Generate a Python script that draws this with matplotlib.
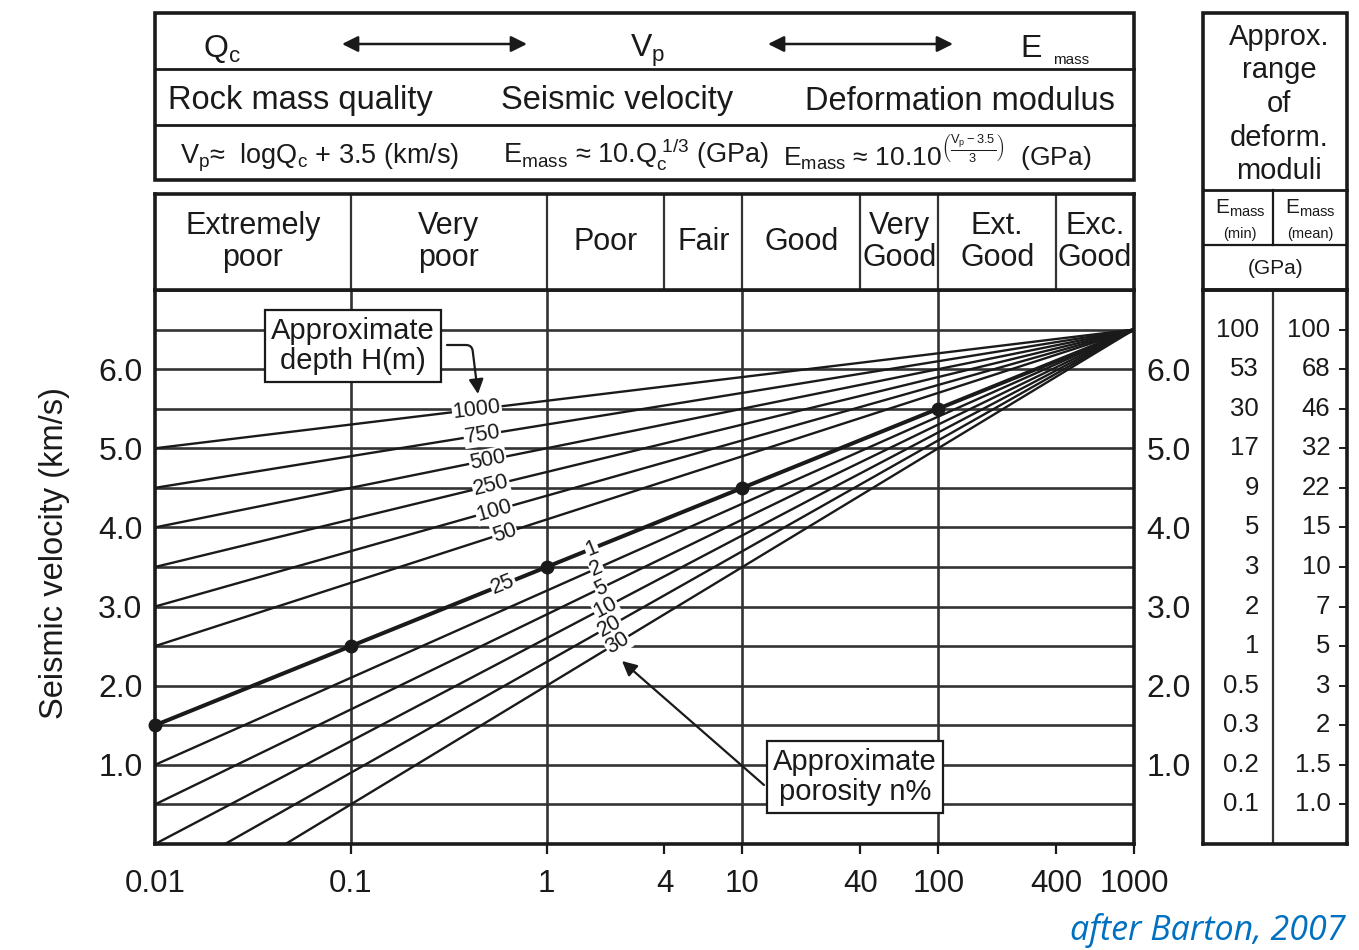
import numpy as np
import matplotlib
matplotlib.use("Agg")
import matplotlib.pyplot as plt
from matplotlib.patches import Rectangle
from matplotlib.lines import Line2D

plt.rcParams["font.family"] = ["Liberation Sans", "DejaVu Sans"]
plt.rcParams["mathtext.fontset"] = "custom"
plt.rcParams["mathtext.rm"] = "Liberation Sans"
plt.rcParams["mathtext.it"] = "Liberation Sans:italic"
plt.rcParams["mathtext.bf"] = "Liberation Sans:bold"

# ---------------- data ----------------
# rock mass quality classes, bounded by Q values
q_bounds = [0.01, 0.1, 1, 4, 10, 40, 100, 400, 1000]
q_classes = ["Extremely\npoor", "Very\npoor", "Poor", "Fair", "Good",
             "Very\nGood", "Ext.\nGood", "Exc.\nGood"]

q_ticks = [0.01, 0.1, 1, 4, 10, 40, 100, 400, 1000]
q_tick_labels = ["0.01", "0.1", "1", "4", "10", "40", "100", "400", "1000"]

vp_ticks = [1.0, 2.0, 3.0, 4.0, 5.0, 6.0]
vp_tick_labels = ["1.0", "2.0", "3.0", "4.0", "5.0", "6.0"]

# every line runs from Q = 0.01 to the common focus (Q = 1000, Vp = 6.5)
q_start = 0.01
q_focus = 1000
vp_focus = 6.5

# depth lines H (m): Vp at Q = 0.01
depth_names = ["1000", "750", "500", "250", "100", "50", "25"]
depth_vp_start = [5.0, 4.5, 4.0, 3.5, 3.0, 2.5, 1.5]

# porosity lines n (%): Vp at Q = 0.01
porosity_names = ["1", "2", "5", "10", "20", "30"]
porosity_vp_start = [1.5, 1.0, 0.5, 0.0, -0.5, -1.0]

# Vp = log Qc + 3.5 reference points
q_points = [0.01, 0.1, 1, 10, 100]
vp_points = [1.5, 2.5, 3.5, 4.5, 5.5]

# deformation modulus table (GPa), one row per Vp level
vp_rows = [6.5, 6.0, 5.5, 5.0, 4.5, 4.0, 3.5, 3.0, 2.5, 2.0, 1.5, 1.0, 0.5]
emass_min = ["100", "53", "30", "17", "9", "5", "3", "2", "1", "0.5", "0.3", "0.2", "0.1"]
emass_mean = ["100", "68", "46", "32", "22", "15", "10", "7", "5", "3", "2", "1.5", "1.0"]

# where the line labels sit along Q
depth_label_q = [0.44, 0.47, 0.50, 0.52, 0.54, 0.61, 0.60]
porosity_label_q = [1.7, 1.8, 1.9, 2.0, 2.1, 2.3]

# ---------------- figure ----------------
W, H = 1359, 950
fig = plt.figure(figsize=(W / 100, H / 100), dpi=100)
INK = "#1a1a1a"
GRID = "#333333"


def axes_px(left, top, right, bottom, **kw):
    return fig.add_axes([left / W, 1 - bottom / H, (right - left) / W, (bottom - top) / H], **kw)


# main nomogram
ax = axes_px(155, 290, 1134, 844)
ax.set_xscale("log")
ax.set_xlim(q_start, q_focus)
ax.set_ylim(0, 7)
for s in ax.spines.values():
    s.set_linewidth(2.6)
    s.set_color(INK)

for v in np.arange(0.5, 7.0, 0.5):
    ax.axhline(v, color=GRID, lw=1.9, zorder=1)
for q in [0.1, 1, 10, 100]:
    ax.axvline(q, color=GRID, lw=1.9, zorder=1)

ax.set_xticks(q_ticks)
ax.set_xticklabels(q_tick_labels)
ax.xaxis.set_minor_locator(matplotlib.ticker.NullLocator())
ax.tick_params(axis="x", direction="out", length=7, width=1.6, color=INK,
               labelsize=22.5, pad=11, labelcolor=INK)
ax.xaxis.get_major_ticks()[0].tick1line.set_visible(False)
ax.set_yticks(vp_ticks)
ax.set_yticklabels(vp_tick_labels)
ax.tick_params(axis="y", length=0, labelsize=23, pad=9, labelcolor=INK,
               labelright=True, right=False)


def line_angle(v0):
    p1 = ax.transData.transform((q_start, v0))
    p2 = ax.transData.transform((q_focus, vp_focus))
    return np.degrees(np.arctan2(p2[1] - p1[1], p2[0] - p1[0]))


def vp_at(q, v0):
    frac = (np.log10(q) - np.log10(q_start)) / (np.log10(q_focus) - np.log10(q_start))
    return v0 + (vp_focus - v0) * frac


label_box = dict(facecolor="white", edgecolor="none", pad=0.6)

for name, v0, ql in zip(depth_names, depth_vp_start, depth_label_q):
    lw = 2.9 if v0 == vp_points[0] else 1.7
    ax.plot([q_start, q_focus], [v0, vp_focus], color=INK, lw=lw, zorder=3,
            solid_capstyle="butt")
    ax.text(ql, vp_at(ql, v0), name, rotation=line_angle(v0), rotation_mode="anchor",
            ha="center", va="center", fontsize=15.5, color=INK, bbox=label_box, zorder=5)

for name, v0, ql in zip(porosity_names, porosity_vp_start, porosity_label_q):
    if v0 != vp_points[0]:
        ax.plot([q_start, q_focus], [v0, vp_focus], color=INK, lw=1.7, zorder=3,
                solid_capstyle="butt")
    ax.text(ql, vp_at(ql, v0), name, rotation=line_angle(v0), rotation_mode="anchor",
            ha="center", va="center", fontsize=15.5, color=INK, bbox=label_box, zorder=5)

ax.plot(q_points, vp_points, "o", color=INK, ms=9, zorder=6, clip_on=False)

# quality class header
axq = axes_px(155, 194, 1134, 290)
axq.set_xscale("log")
axq.set_xlim(q_start, q_focus)
axq.set_ylim(0, 1)
axq.set_xticks([])
axq.set_yticks([])
axq.xaxis.set_minor_locator(matplotlib.ticker.NullLocator())
for s in axq.spines.values():
    s.set_linewidth(2.6)
    s.set_color(INK)
for b in q_bounds[1:-1]:
    axq.axvline(b, color=GRID, lw=1.6)
for lo, hi, name in zip(q_bounds[:-1], q_bounds[1:], q_classes):
    axq.text(np.sqrt(lo * hi), 0.5, name, ha="center", va="center", fontsize=22,
             color=INK, linespacing=1.05)

# deformation modulus table
axt = axes_px(1203, 290, 1347, 844)
axt.set_xlim(0, 1)
axt.set_ylim(0, 7)
axt.set_xticks([])
axt.set_yticks(vp_rows)
axt.set_yticklabels([])
axt.tick_params(axis="y", left=False, right=True, direction="in", length=6,
                width=1.4, color=INK)
for s in axt.spines.values():
    s.set_linewidth(2.6)
    s.set_color(INK)
axt.axvline(70 / 144, color=GRID, lw=1.6)
for v, a, b in zip(vp_rows, emass_min, emass_mean):
    axt.text(0.39, v, a, ha="right", va="center", fontsize=18.5, color=INK)
    axt.text(0.885, v, b, ha="right", va="center", fontsize=18.5, color=INK)

# overlay in pixel coordinates for the header blocks and annotations
ov = fig.add_axes([0, 0, 1, 1], zorder=10)
ov.set_xlim(0, W)
ov.set_ylim(H, 0)
ov.axis("off")
ov.patch.set_visible(False)

# relation header
ov.add_patch(Rectangle((155, 13), 979, 167, fill=False, lw=2.6, ec=INK))
for y in (69, 125):
    ov.add_line(Line2D([155, 1134], [y, y], lw=2.0, color=INK))

ov.text(222, 57, r"Q$_\mathregular{c}$", ha="center", va="baseline", fontsize=23, color=INK)
ov.text(648, 57, r"V$_\mathregular{p}$", ha="center", va="baseline", fontsize=23, color=INK)
ov.text(1031, 57, "E", ha="center", va="baseline", fontsize=23, color=INK)
ov.text(1071, 64, "mass", ha="center", va="baseline", fontsize=11, color=INK)
for x0, x1 in ((342, 527), (768, 953)):
    ov.annotate("", xy=(x1, 44), xytext=(x0, 44),
                arrowprops=dict(arrowstyle="<|-|>", lw=1.8, color=INK,
                                mutation_scale=24, shrinkA=0, shrinkB=0))

ov.text(300, 101, "Rock mass quality", ha="center", va="center", fontsize=23.5, color=INK)
ov.text(617, 101, "Seismic velocity", ha="center", va="center", fontsize=23.5, color=INK)
ov.text(960, 101, "Deformation modulus", ha="center", va="center", fontsize=23.5, color=INK)

ov.text(180, 163, r"V$_\mathregular{p}$≈  logQ$_\mathregular{c}$ + 3.5 (km/s)",
        ha="left", va="baseline", fontsize=19.5, color=INK)
ov.text(503, 163, r"E$_\mathregular{mass}$ ≈ 10.Q$_\mathregular{c}^{\ 1/3}$ (GPa)",
        ha="left", va="baseline", fontsize=19.5, color=INK)
ov.text(783, 166, r"E$_\mathregular{mass}$ ≈ 10.10$^{\left(\frac{\mathregular{V_p - 3.5}}{\mathregular{3}}\right)}$  (GPa)",
        ha="left", va="baseline", fontsize=19, color=INK)

# table header
ov.add_patch(Rectangle((1203, 13), 144, 277, fill=False, lw=2.6, ec=INK))
ov.add_line(Line2D([1203, 1347], [190, 190], lw=2.0, color=INK))
ov.add_line(Line2D([1203, 1347], [245, 245], lw=1.6, color=INK))
ov.add_line(Line2D([1273, 1273], [190, 245], lw=1.6, color=INK))
ov.text(1279, 104, "Approx.\nrange\nof\ndeform.\nmoduli", ha="center", va="center",
        fontsize=21, color=INK, linespacing=1.26)
ov.text(1240, 214, r"E$_\mathregular{mass}$", ha="center", va="baseline", fontsize=15, color=INK)
ov.text(1240, 238, "(min)", ha="center", va="baseline", fontsize=10.5, color=INK)
ov.text(1310, 214, r"E$_\mathregular{mass}$", ha="center", va="baseline", fontsize=15, color=INK)
ov.text(1310, 238, "(mean)", ha="center", va="baseline", fontsize=10.5, color=INK)
ov.text(1276, 268, "(GPa)", ha="center", va="center", fontsize=15, color=INK)

# axis title
ov.text(55, 553, "Seismic velocity (km/s)", rotation=90, ha="center", va="center",
        fontsize=23.5, color=INK)

# callouts
box = dict(boxstyle="square,pad=0.22", facecolor="white", edgecolor=INK, lw=1.6)
ov.text(353, 346, "Approximate\ndepth H(m)", ha="center", va="center", fontsize=21,
        color=INK, bbox=box, linespacing=1.1)
ov.annotate("", xy=(478, 394), xytext=(447, 345),
            arrowprops=dict(arrowstyle="-|>", lw=1.6, color=INK, mutation_scale=22,
                            shrinkA=0, shrinkB=0,
                            connectionstyle="angle,angleA=0,angleB=97,rad=6"))
ov.text(855, 777, "Approximate\nporosity n%", ha="center", va="center", fontsize=21,
        color=INK, bbox=box, linespacing=1.1)
ov.annotate("", xy=(622, 661), xytext=(764, 785),
            arrowprops=dict(arrowstyle="-|>", lw=1.6, color=INK, mutation_scale=22,
                            shrinkA=0, shrinkB=0))

ov.text(1345, 931, "after Barton, 2007", ha="right", va="center", fontsize=24.5,
        color="#0070C0", style="italic", family=["Open Sans", "DejaVu Sans"])

fig.savefig("out.png", dpi=100, facecolor="white")
